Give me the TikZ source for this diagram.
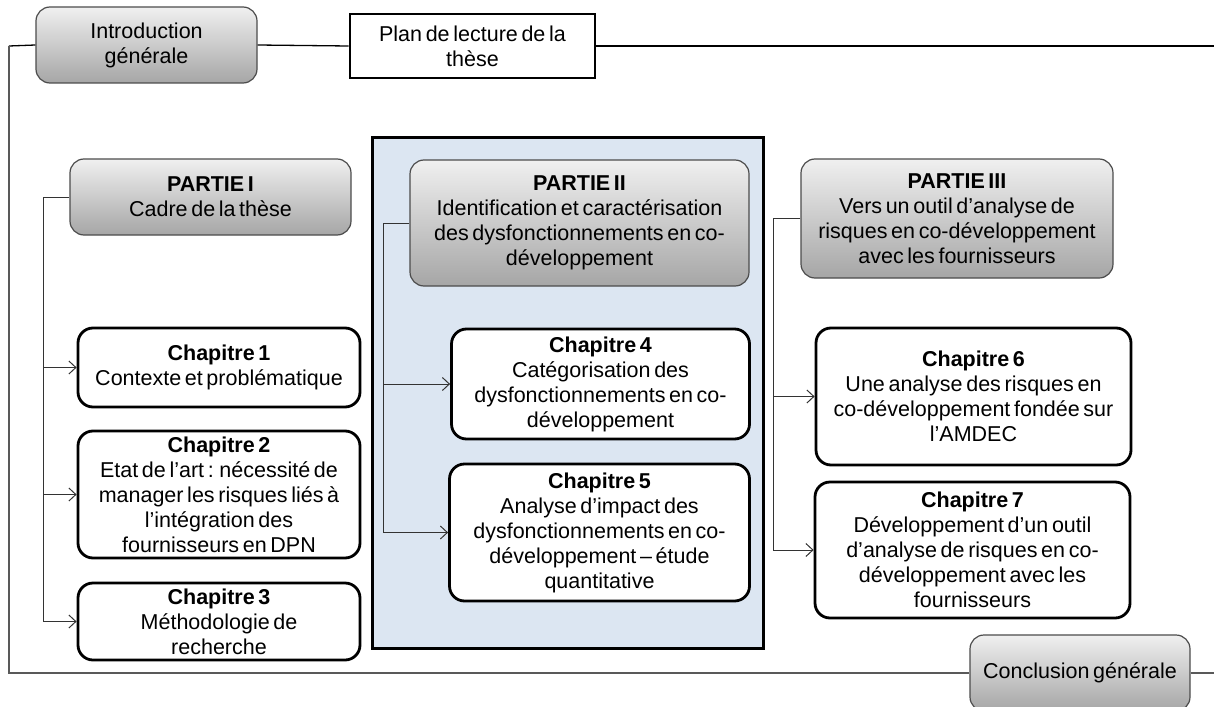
\documentclass[tikz,border=0pt]{standalone}
\usepackage{fontspec}
\setmainfont{Liberation Sans}
\usetikzlibrary{arrows.meta}
\newcommand\boxfont{\fontsize{21.5}{25}\selectfont\spaceskip=0.17em plus 0.05em\relax}
\begin{document}
\begin{tikzpicture}[x=1pt,y=-1pt,
  txt/.style={font=\boxfont, align=center, inner sep=2pt},
  graybox/.style={txt, rounded corners=14pt, draw=black!70, line width=1.2pt,
    top color=black!6, bottom color=black!35},
  chapbox/.style={txt, rounded corners=15pt, draw=black, line width=2.8pt, fill=white},
  planbox/.style={txt, draw=black, line width=2.8pt, fill=white},
  partframe/.style={draw=black, line width=3pt, fill={rgb,255:red,220;green,230;blue,242}},
  topline/.style={draw=black, line width=1.3pt},
  sideline/.style={draw=black!65, line width=1.6pt},
  link/.style={draw=black!80, line width=1pt},
  arr/.style={link, -{Straight Barb[length=7pt,width=13pt]}}]
\useasboundingbox (0,0) rectangle (1214,706);

% outer frame corners
\coordinate (ftl) at (9,46);
\coordinate (fbl) at (9,673);
\coordinate (ftr) at (1214,46);
\coordinate (fbr) at (1214,673);

% part II background frame
\node[partframe, minimum width=391, minimum height=511] (p2frame) at (567.5,392.5) {};

% top row
\node[graybox, minimum width=221, minimum height=76] (intro) at (146.5,45) {Introduction\\générale};
\node[planbox, minimum width=245, minimum height=64] (plan) at (472.5,46) {Plan de lecture de la\\thèse};
\node[graybox, minimum width=220, minimum height=76] (concl) at (1080,673) {Conclusion générale};

% frame lines
\draw[topline] (intro.west) -- (ftl);
\draw[topline] (intro.east) -- (plan.west);
\draw[topline] (plan.east) -- (ftr);
\draw[sideline] (ftl) -- (fbl) -- (concl.west);
\draw[sideline] (concl.east) -- (fbr);

% part I
\node[graybox, minimum width=281, minimum height=76] (p1) at (210.5,197) {\textbf{PARTIE I}\\Cadre de la thèse};
\node[chapbox, minimum width=282, minimum height=79] (c1) at (219,367.5) {\textbf{Chapitre 1}\\Contexte et problématique};
\node[chapbox, minimum width=282, minimum height=127] (c2) at (219,494.5) {\textbf{Chapitre 2}\\Etat de l’art : nécessité de\\manager les risques liés à\\l’intégration des\\fournisseurs en DPN};
\node[chapbox, minimum width=282, minimum height=77] (c3) at (219,621.5) {\textbf{Chapitre 3}\\Méthodologie de\\recherche};

% part II
\node[graybox, minimum width=339, minimum height=126] (p2) at (579.5,223) {\textbf{PARTIE II}\\Identification et caractérisation\\des dysfonctionnements en co-\\développement};
\node[chapbox, minimum width=298, minimum height=110] (c4) at (600.5,384) {\textbf{Chapitre 4}\\Catégorisation des\\dysfonctionnements en co-\\développement};
\node[chapbox, minimum width=300, minimum height=137] (c5) at (599.5,532.5) {\textbf{Chapitre 5}\\Analyse d’impact des\\dysfonctionnements en co-\\développement – étude\\quantitative};

% part III
\node[graybox, minimum width=312, minimum height=119] (p3) at (957,218.5) {\textbf{PARTIE III}\\Vers un outil d’analyse de\\risques en co-développement\\avec les fournisseurs};
\node[chapbox, minimum width=315, minimum height=137] (c6) at (973.5,396.5) {\textbf{Chapitre 6}\\Une analyse des risques en\\co-développement fondée sur\\l’AMDEC};
\node[chapbox, minimum width=315, minimum height=136] (c7) at (972.5,550) {\textbf{Chapitre 7}\\Développement d’un outil\\d’analyse de risques en co-\\développement avec les\\fournisseurs};

% trunks of the connectors
\coordinate (t1) at (43,0);
\coordinate (t2) at (383,0);
\coordinate (t3) at (773,0);

\draw[link] (p1.west) -- (p1.west -| t1) -- (c3.west -| t1);
\foreach \c in {c1,c2,c3} \draw[arr] (\c.west -| t1) -- (\c.west);

\draw[link] (p2.west) -- (p2.west -| t2) -- (c5.west -| t2);
\foreach \c in {c4,c5} \draw[arr] (\c.west -| t2) -- (\c.west);

\draw[link] (p3.west) -- (p3.west -| t3) -- (c7.west -| t3);
\foreach \c in {c6,c7} \draw[arr] (\c.west -| t3) -- (\c.west);
\end{tikzpicture}
\end{document}
